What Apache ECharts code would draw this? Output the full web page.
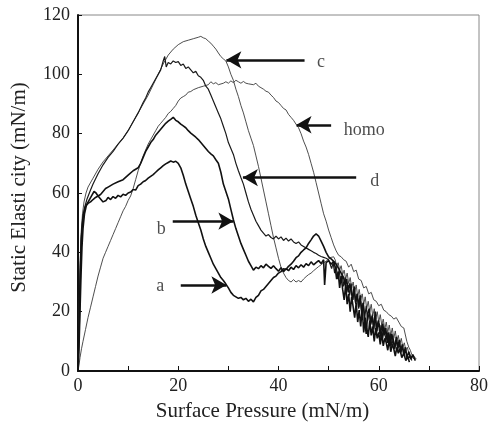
<!DOCTYPE html>
<html>
<head>
<meta charset="utf-8">
<script src="https://cdn.jsdelivr.net/npm/echarts@6/dist/echarts.min.js"></script>
<style>html,body{margin:0;padding:0;background:#fff}#c{width:491px;height:427px}</style>
</head>
<body>
<div id="c"></div>
<script>
// ---- data (x: surface pressure mN/m, y: static elasticity mN/m) ----
const curveA = [[0,0],[0.2,8],[0.4,20],[0.6,32],[0.8,42],[1.0,48],[1.3,53],[1.7,56],[2.2,57.5],[2.7,59],[3.2,60.5],[3.6,60],[4.0,59],[4.5,58],[5.0,57],[5.6,57.5],[6.0,58.5],[6.5,57.8],[7.0,58.8],[7.5,58.2],[8.0,59.2],[8.5,58.7],[9.0,59.6],[9.5,59.2],[10.0,60],[10.5,60.3],[11,61.2],[11.5,61],[12,62.5],[12.5,63],[13,63.8],[13.5,64.2],[14,65],[14.5,65.6],[15,66.2],[15.5,67],[16,67.8],[16.5,68.5],[17,69.2],[17.5,69.8],[18,70.3],[18.5,70.8],[19,70.4],[19.5,70.7],[20,70],[20.5,68.5],[21,66],[21.5,63],[22,60.5],[22.5,58],[23,55.5],[23.5,52.5],[24,50],[24.5,47.5],[25,44.5],[25.5,42],[26,40],[26.5,38],[27,36],[27.5,34.5],[28,33],[28.5,31.5],[29,30.5],[29.5,29.3],[30,28],[30.5,26.5],[31,25.5],[31.5,25],[32,24.5],[32.5,24.8],[33,24],[33.5,24.5],[34,23.5],[34.5,24.2],[35,23.3],[35.5,24.8],[36,25.5],[36.5,27],[37,27.5],[37.5,28.5],[38,29.5],[38.5,30.5],[39,31.5],[39.5,32],[40,33],[40.5,33.5],[41,34.5],[41.5,34.2],[42,35.3],[42.5,36],[43,37],[43.5,38.2],[44,38.8],[44.5,40],[45,40.8],[45.5,41.5],[46,43],[46.5,44.2],[47,45.5],[47.5,46.2],[48,45.5],[48.5,43.8],[49,42],[49.5,40],[50,38.5],[50.5,37.8],[51,37],[51.5,36],[52,34.5],[52.5,33],[53,31.5],[53.3,29],[53.6,31],[53.9,26.5],[54.2,29.5],[54.5,27],[54.8,24],[55.1,28.5],[55.4,23],[55.7,26],[56,21.5],[56.3,25.5],[56.6,20],[56.9,23],[57.2,17],[57.5,12.5],[57.8,19.5],[58.1,21],[58.4,16],[58.7,18.5],[59,14],[59.3,20],[59.6,13.5],[59.9,17],[60.2,15],[60.5,10.5],[60.8,16],[61.1,12],[61.4,14.5],[61.7,9.5],[62,13],[62.3,8.5],[62.6,12.5],[62.9,10],[63.2,7.5],[63.5,11.5],[63.8,8],[64.1,10.5],[64.4,6.5],[64.7,9],[65,5.5],[65.3,8],[65.6,4.5],[66,6.5],[66.4,4],[66.8,5.5],[67.3,3.5]];

const curveB = [[0,0],[0.2,12],[0.4,28],[0.6,40],[0.8,48],[1.1,53],[1.5,55.5],[2,56.5],[2.5,57],[3,57.8],[3.5,58.5],[4,59],[4.5,59.5],[5,60.5],[5.5,61.5],[6,62],[7,63],[8,63.8],[9,64.5],[10,66],[11,67.5],[12,68.5],[12.5,70],[13,72],[13.5,74],[14,75.5],[14.5,77],[15,78],[15.5,79.5],[16,80.5],[16.5,81.5],[17,82.5],[17.5,83.5],[18,84.2],[18.5,84.8],[19,85.5],[19.5,84.5],[20,84],[20.5,83.2],[21,82.6],[21.5,82],[22,81],[22.5,80.2],[23,79.5],[23.5,78.8],[24,78],[24.5,77],[25,76],[25.5,75],[26,74],[26.5,73.2],[27,72.5],[27.5,71.2],[28,70],[28.5,67],[29,63],[29.5,60.5],[30,58],[30.5,54.5],[31,51],[31.5,48],[32,45.5],[32.5,43],[33,41],[33.5,39],[34,37],[34.5,35.5],[35,34],[35.5,35],[36,34.5],[36.5,35.5],[37,34.8],[37.5,36],[38,35.3],[38.5,34.6],[39,35.5],[39.5,34.5],[40,33.6],[40.5,34.8],[41,33.5],[41.5,34.5],[42,33.8],[42.5,35],[43,34.2],[43.5,35.5],[44,34.8],[44.5,35.8],[45,35],[45.5,36.2],[46,35.5],[46.5,36.8],[47,35.8],[47.5,36.5],[48,37.2],[48.5,36.2],[49,37.5],[49.2,29],[49.5,36.5],[50,37.2],[50.5,36],[51,37],[51.3,35],[51.6,31],[51.9,33.5],[52.2,28],[52.5,32],[52.8,27.5],[53.1,24],[53.4,29],[53.7,22.5],[54,26],[54.3,20],[54.6,25],[54.9,21.5],[55.2,18],[55.5,23],[55.8,16.5],[56.1,20.5],[56.4,15],[56.7,21],[57,13],[57.3,18],[57.6,14.5],[57.9,11.5],[58.2,17],[58.5,12],[58.8,15],[59.1,10],[59.4,14.5],[59.7,11],[60,13],[60.3,9],[60.6,12.5],[60.9,8.5],[61.2,11],[61.5,9.5],[61.8,7],[62.1,10.5],[62.4,6.5],[62.7,9],[63,7.5],[63.3,5],[63.6,8],[63.9,6],[64.2,7.5],[64.6,4.5],[65,6],[65.4,3.5],[65.8,5],[66.1,3]];

const curveC = [[0,0],[0.2,18],[0.4,35],[0.6,46],[0.9,53],[1.2,57],[1.6,60],[2,62],[3,65],[4,68],[5,70.5],[6,72.5],[7,74.5],[8,76.5],[9,78.5],[10,81],[11,84],[12,87],[13,90],[14,93],[15,96.5],[16,100],[17,103.5],[17.5,105],[18,106.5],[19,108.5],[20,110],[21,111],[22,111.5],[23,112],[24,112.5],[24.5,112.8],[25,112.3],[25.5,112],[26,111.2],[26.5,110.5],[27,109.5],[27.5,108.5],[28,107.2],[28.5,106],[29,105.2],[29.5,104.5],[30,102.5],[30.5,100],[31,98],[31.5,95],[32,92.5],[32.5,89.5],[33,87],[33.5,84],[34,81],[34.5,78.5],[35,76],[35.5,72.5],[36,69],[36.5,65],[37,61],[37.5,57],[38,53],[38.5,49],[39,45],[39.5,41.5],[40,38],[40.5,35],[41,33],[41.5,31.5],[42,30.5],[42.5,30],[43,30.8],[43.5,30],[44,30.5],[44.5,30],[45,31],[45.5,31.8],[46,32.5],[46.5,33],[47,33.8],[47.5,34.5],[48,35.2],[48.5,35.8],[49,36.5],[49.5,37],[50,37.8],[50.5,38.3],[51,38.5],[51.3,37.5],[51.6,35.5],[51.9,36.5],[52.2,34],[52.5,35.5],[52.8,32.5],[53.1,34],[53.4,31],[53.7,33],[54,29.5],[54.3,31.5],[54.6,28],[54.9,30],[55.2,26.5],[55.5,29],[55.8,25],[56.1,27.5],[56.4,24],[56.7,26],[57,22.5],[57.3,25],[57.6,21],[57.9,23.5],[58.2,20],[58.5,22.5],[58.8,18.5],[59.1,21],[59.4,17.5],[59.7,20],[60,16.5],[60.3,19],[60.6,15.5],[60.9,17.5],[61.2,14],[61.5,16.5],[61.8,13],[62.1,15.5],[62.4,12],[62.7,14.5],[63,11],[63.3,13.5],[63.6,10],[63.9,12],[64.2,9],[64.5,11],[64.8,8],[65.1,9.5],[65.4,7],[65.7,8],[66,6],[66.3,6.5],[66.7,4.5],[67,5],[67.2,4]];

const curveD = [[0,0],[0.2,15],[0.4,32],[0.6,44],[0.9,51],[1.3,55],[1.8,58],[2.5,61],[3,63],[4,66.5],[5,69.5],[6,72],[7,74],[8,76.5],[9,78.5],[10,81],[11,84],[12,87],[13,90.5],[13.5,92],[14,94],[14.5,95.5],[15,97],[15.5,98.5],[16,100],[16.5,101.5],[17,104.5],[17.3,106],[17.6,102.5],[18,104],[18.5,103.5],[19,104.5],[19.5,104],[20,104.3],[20.5,103],[21,103.5],[21.5,102],[22,102.5],[22.5,101.5],[23,100.5],[23.5,101],[24,99.5],[24.5,99],[25,98],[25.5,96],[26,95],[26.5,93],[27,91],[27.5,89],[28,87],[28.5,85],[29,82.5],[29.5,80],[30,77],[30.5,75],[31,73],[31.5,70],[32,67.5],[32.5,65.2],[33,63],[33.5,60],[34,57],[34.5,54.5],[35,52.5],[35.5,50.5],[36,49],[36.5,47.5],[37,46.5],[37.5,45.5],[38,46],[38.5,45],[39,44.5],[39.5,45.5],[40,44.5],[40.5,45.2],[41,44],[41.5,44.8],[42,43.8],[42.5,44.5],[43,43.5],[43.5,43],[44,43.5],[44.5,42.5],[45,42],[45.5,41.5],[46,41],[46.5,40.5],[47,40],[47.5,39.6],[48,39],[48.5,38.6],[49,38.3],[49.5,38],[50,37.5],[50.3,37],[50.6,34.5],[50.9,36.5],[51.2,33],[51.5,35.5],[51.8,31],[52.1,34],[52.4,30],[52.7,32.5],[53,28.5],[53.3,31.5],[53.6,27],[53.9,29],[54.2,25.5],[54.5,29.5],[54.8,24],[55.1,27],[55.4,22.5],[55.7,26],[56,21],[56.3,24.5],[56.6,19.5],[56.9,23],[57.2,18],[57.5,22],[57.8,17],[58.1,20],[58.4,15.5],[58.7,19],[59,14.5],[59.3,18],[59.6,13],[59.9,16.5],[60.2,12.5],[60.5,15.5],[60.8,11],[61.1,14.5],[61.4,10.5],[61.7,13],[62,9.5],[62.3,12.5],[62.6,8.5],[62.9,11],[63.2,8],[63.5,10.5],[63.8,7],[64.1,9.5],[64.4,6],[64.7,8.5],[65,5.5],[65.4,7],[65.8,4],[66.2,5],[66.6,3.5]];

const curveHomo = [[0,0],[0.2,2],[0.4,4.5],[0.7,7.5],[1,10],[1.5,14],[2,18],[2.5,21.5],[3,25],[3.5,28.5],[4,32],[4.5,35],[5,38],[5.5,40],[6,42],[6.5,44],[7,46],[7.5,48],[8,50],[8.5,52],[9,54],[9.5,55.5],[10,57.5],[10.5,59],[11,61.5],[11.5,64.5],[12,67.5],[12.5,70],[13,72.5],[13.5,74.5],[14,76.5],[14.5,78],[15,79.5],[15.5,81],[16,82.5],[16.5,83.5],[17,84.5],[17.5,85.5],[18,86.8],[18.5,87.5],[19,88.5],[19.5,89.5],[20,91],[20.5,92],[21,92.5],[21.5,93],[22,94],[22.5,94.2],[23,94.8],[24,95.5],[25,96],[26,96.5],[26.5,97.5],[27,96.8],[27.5,97.2],[28,96.5],[29,97],[29.5,97.5],[30,97],[30.5,97.8],[31,97.2],[31.5,98],[32,97.5],[32.5,97],[33,97.6],[33.5,97],[34,96.8],[35,96.5],[35.5,97],[36,96],[36.5,95.5],[37,95],[37.5,94.3],[38,94],[38.5,93],[39,92.2],[39.5,91],[40,90.5],[40.5,89.5],[41,88.5],[41.5,88],[42,86.5],[42.5,85.5],[43,84.5],[43.5,83.2],[44,82],[44.5,80],[45,77.5],[45.5,75.5],[46,73],[46.5,70],[47,67],[47.5,63.5],[48,60],[48.5,56.5],[49,53],[49.5,50.5],[50,47.5],[50.5,45],[51,42.5],[51.5,40.5],[52,39],[52.5,38.5],[53,37.5],[53.5,37],[54,35],[54.5,36],[55,33.5],[55.5,34],[56,31],[56.5,30.5],[57,28],[57.5,28.5],[58,26],[58.5,26.5],[59,24],[59.5,23.5],[60,22],[60.5,22.5],[61,20.5],[61.5,20],[62,19],[62.5,18.5],[63,17.5],[63.5,18],[64,16.5],[64.5,15],[65,14.5],[65.3,14],[65.6,10],[66,8],[66.3,7],[66.6,5.5],[67,5],[67.3,4.5],[67.5,4]];

// annotation arrows: [tailX, tailY, tipX, tipY]
const arrows = [[45.2,104.9,29.6,104.9],[50.5,83,43.6,83],[55.5,65.2,32.9,65.2],[18.9,50.5,31,50.5],[20.5,29,29.6,29]];
// annotation labels: [x, y, text]
const labels = [[48.5,103.9,'c'],[57.1,81,'homo'],[59.2,63.9,'d'],[16.6,47.7,'b'],[16.4,28.6,'a']];

const xTicks = {min:0, max:80, step:10, labelStep:20};
const yTicks = {min:0, max:120, step:20};

const FONT = 'Liberation Serif';
const chart = echarts.init(document.getElementById('c'), null, {renderer:'canvas'});

function lineSeries(name, data, color, width){
  return {name, type:'line', data, showSymbol:false, symbol:'none', animation:false,
    lineStyle:{color, width}, z:2};
}

chart.setOption({
  animation:false,
  backgroundColor:'#fff',
  grid:{left:78, right:2, top:15, bottom:55, show:true, borderColor:'#888', borderWidth:1, backgroundColor:'transparent'},
  xAxis:{type:'value', min:xTicks.min, max:xTicks.max, interval:xTicks.step,
    name:'Surface Pressure (mN/m)', nameLocation:'middle', nameGap:30,
    nameTextStyle:{fontFamily:FONT, fontSize:21, color:'#222', padding:[0,32,0,0]},
    axisLine:{lineStyle:{color:'#111', width:2}},
    axisTick:{inside:true, length:5, lineStyle:{color:'#111', width:1}},
    axisLabel:{fontFamily:FONT, fontSize:18, color:'#222', margin:6,
      formatter:v => (v % xTicks.labelStep === 0 ? String(v) : '')},
    splitLine:{show:false}},
  yAxis:{type:'value', min:yTicks.min, max:yTicks.max, interval:yTicks.step,
    name:'Static Elasti city (mN/m)', nameLocation:'middle', nameGap:48,
    nameTextStyle:{fontFamily:FONT, fontSize:21, color:'#222', padding:[0,0,0,11]},
    axisLine:{lineStyle:{color:'#111', width:2}},
    axisTick:{inside:true, length:4, lineStyle:{color:'#111', width:1}},
    axisLabel:{fontFamily:FONT, fontSize:18, color:'#222', margin:8},
    splitLine:{show:false}},
  series:[
    lineSeries('homo', curveHomo, '#3a3a3a', 0.9),
    lineSeries('c', curveC, '#3a3a3a', 0.9),
    lineSeries('d', curveD, '#1a1a1a', 1.2),
    lineSeries('b', curveB, '#111', 1.6),
    lineSeries('a', curveA, '#111', 1.6),
    {type:'line', data:[], animation:false, silent:true,
      markLine:{silent:true, animation:false, symbol:['none','arrow'], symbolSize:[13,15],
        lineStyle:{color:'#111', width:2.5, type:'solid'}, label:{show:false},
        data: arrows.map(a => [{coord:[a[0],a[1]]},{coord:[a[2],a[3]]}])}},
    {type:'scatter', data:labels, symbolSize:0, animation:false, silent:true, z:5,
      label:{show:true, position:'inside', fontFamily:FONT, fontSize:18, color:'#222',
        formatter:p => p.data[2]}}
  ]
});
</script>
</body>
</html>
